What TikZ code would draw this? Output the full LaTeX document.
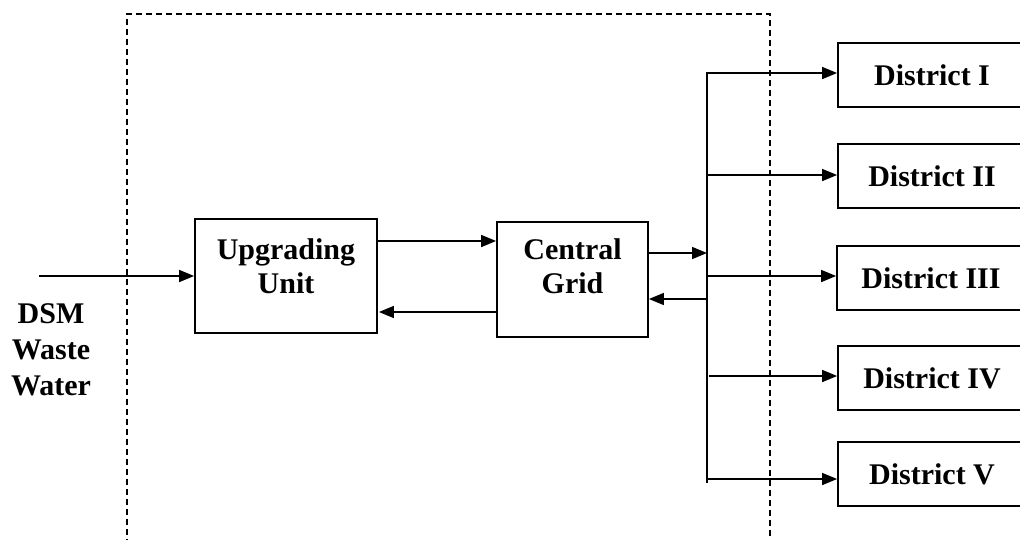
\documentclass[tikz,border=0pt]{standalone}
\usepackage{fontspec}
\setmainfont{Liberation Serif}
\usetikzlibrary{arrows.meta,calc}

\tikzset{
  lbl/.style={font=\fontsize{30}{34}\selectfont\bfseries, align=center, inner sep=0pt},
  blk/.style={draw, line width=1.8pt, rectangle, inner sep=0pt},
  dist/.style={blk, minimum width=188pt, minimum height=64pt, font=\fontsize{30}{34}\selectfont\bfseries},
  arr/.style={line width=1.6pt, -{Triangle[length=15pt,width=12pt]}},
  wire/.style={line width=1.6pt},
  frame/.style={line width=1.5pt, dash pattern=on 6pt off 4pt}
}

\begin{document}
\begin{tikzpicture}[x=1pt,y=-1pt]
  \clip (0,0) rectangle (1020,539);

  % dashed plant boundary (open at the bottom)
  \draw[frame] (127,545) -- (127,14) -- (770,14) -- (770,545);

  % main blocks
  \node[blk, minimum width=182pt, minimum height=114pt] (up) at (286,276) {};
  \node[lbl] (upT) at (286,266) {Upgrading\\Unit};
  \node[blk, minimum width=151pt, minimum height=115pt] (grid) at (572.5,279.5) {};
  \node[lbl] (gridT) at (572.5,266) {Central\\Grid};

  % districts
  \node[dist] (d1) at (932,75)  {District I};
  \node[dist] (d2) at (932,176) {District II};
  \node[dist] (d3) at (931,278) {District III};
  \node[dist] (d4) at (932,378) {District IV};
  \node[dist] (d5) at (932,474) {District V};

  % inlet label
  \node[lbl, font=\fontsize{30}{36}\selectfont\bfseries] (dsm) at (51,350) {DSM\\Waste\\Water};

  % reference heights of the connectors
  \coordinate (in)  at (39,276);
  \coordinate (hA)  at (0,241);
  \coordinate (hB)  at (0,312);
  \coordinate (hC)  at (0,253);
  \coordinate (hD)  at (0,299);
  \coordinate (busTop) at (707,72);
  \coordinate (busBot) at (707,483);
  \coordinate (b1) at (707,73);
  \coordinate (b2) at (707,175);
  \coordinate (b3) at (707,276);
  \coordinate (b4) at (709,376);
  \coordinate (b5) at (707,479);

  % inlet
  \draw[arr] (in) -- (in -| up.west);

  % upgrading unit <-> central grid
  \draw[arr] (up.east |- hA) -- (grid.west |- hA);
  \draw[arr] (grid.west |- hB) -- ([xshift=1pt]up.east |- hB);

  % distribution bus
  \draw[wire] (busTop) -- (busBot);
  \draw[arr] (grid.east |- hC) -- (busTop |- hC);
  \draw[arr] ([xshift=1pt]busTop |- hD) -- (grid.east |- hD);

  % bus -> districts
  \draw[arr] (b1) -- (b1 -| d1.west);
  \draw[arr] (b2) -- (b2 -| d2.west);
  \draw[arr] (b3) -- (b3 -| d3.west);
  \draw[arr] (b4) -- (b4 -| d4.west);
  \draw[arr] (b5) -- (b5 -| d5.west);
\end{tikzpicture}
\end{document}
